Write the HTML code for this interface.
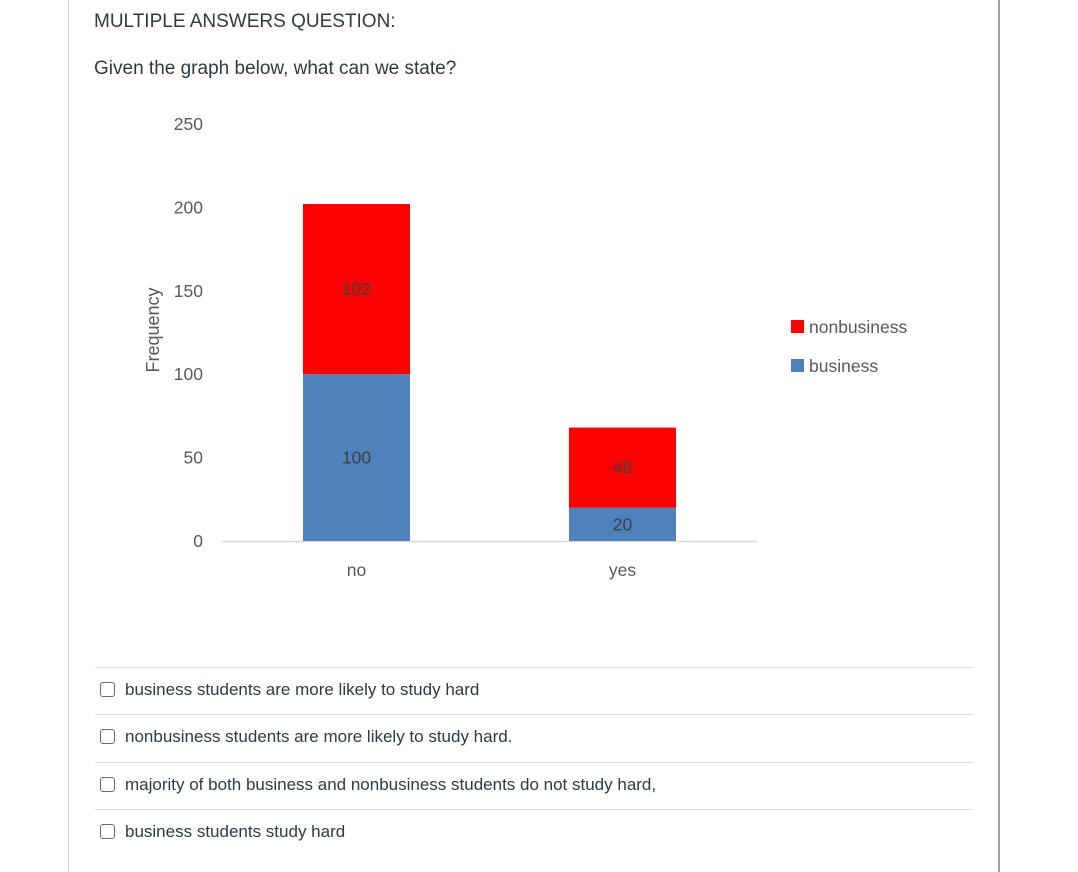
<!DOCTYPE html>
<html><head><meta charset="utf-8">
<style>
body{margin:0;background:#fff;width:1078px;height:872px;overflow:hidden;position:relative;font-family:"Liberation Sans",sans-serif;color:#2d3b45}
.bl{position:absolute;left:68px;top:0;width:1px;height:872px;background:#c7cdd1}
.br{position:absolute;left:998px;top:0;width:2px;height:872px;background:#a0a0a0}
.t{position:absolute;left:94px;font-size:19px;white-space:nowrap}
.opt{position:absolute;left:95px;width:878px;border-top:1px solid #dcdcdc;height:47px}
.opt .cb{position:absolute;left:5px;top:14px;width:13px;height:13px;border:1.5px solid #6b6b6b;border-radius:3px;background:#fff}
.opt span{position:absolute;left:30px;top:12px;font-size:17px;white-space:nowrap}
</style></head><body>
<div class="bl"></div>
<div class="br"></div>
<div class="t" style="top:11px">MULTIPLE ANSWERS QUESTION:</div>
<div class="t" style="top:58px">Given the graph below, what can we state?</div>
<svg id="chart" width="1078" height="640" style="position:absolute;left:0;top:0"></svg>
<div class="opt" style="top:667px"><div class="cb"></div><span>business students are more likely to study hard</span></div>
<div class="opt" style="top:714px"><div class="cb"></div><span>nonbusiness students are more likely to study hard.</span></div>
<div class="opt" style="top:762px"><div class="cb"></div><span>majority of both business and nonbusiness students do not study hard,</span></div>
<div class="opt" style="top:809px"><div class="cb"></div><span>business students study hard</span></div>
<script>
const categories=["no","yes"];
const business=[100,20];
const nonbusiness=[102,48];
const yTicks=[0,50,100,150,200,250];
const NS="http://www.w3.org/2000/svg";
const svg=document.getElementById('chart');
const y0=541,yTop=124,maxV=250;
function y(v){return y0-(v/maxV)*(y0-yTop);}
function xc(i){return 356.5+i*266;}
const bw=107;
function mk(tag,attrs,txt){const e=document.createElementNS(NS,tag);for(const k in attrs)e.setAttribute(k,attrs[k]);if(txt!==undefined)e.textContent=txt;svg.appendChild(e);return e;}
yTicks.forEach(v=>{const t=mk('text',{x:203,y:y(v)+6,'text-anchor':'end','font-size':'17.5',fill:'#595959','font-family':'Liberation Sans,sans-serif'},v);

});
const yt=mk('text',{x:0,y:0,transform:'translate(159,330) rotate(-90)','text-anchor':'middle','font-size':'18',fill:'#595959','font-family':'Liberation Sans,sans-serif'},'Frequency');


const ax=mk('line',{x1:222,x2:757,y1:y0+0.5,y2:y0+0.5,stroke:'#d9d9d9','stroke-width':1.5});


categories.forEach((c,i)=>{
 const b=business[i],n=nonbusiness[i];
 const r1=mk('rect',{x:xc(i)-bw/2,y:y(b),width:bw,height:y(0)-y(b),fill:'#4f81bd'});
 
 
 const r2=mk('rect',{x:xc(i)-bw/2,y:y(b+n),width:bw,height:y(b)-y(b+n),fill:'#ff0000'});
 
 
 const l1=mk('text',{x:xc(i),y:(y(0)+y(b))/2+6,'text-anchor':'middle','font-size':'17.5',fill:'#404040','font-family':'Liberation Sans,sans-serif'},b);
 
 
 const l2=mk('text',{x:xc(i),y:(y(b)+y(b+n))/2+6,'text-anchor':'middle','font-size':'17.5',fill:'#404040','font-family':'Liberation Sans,sans-serif'},n);
 
 
 const xl=mk('text',{x:xc(i),y:576,'text-anchor':'middle','font-size':'17.5',fill:'#595959','font-family':'Liberation Sans,sans-serif'},c);
 
 
});
const lg1=mk('rect',{x:791,y:320,width:13,height:13,fill:'#ff0000'});


const lt1=mk('text',{x:809,y:333,'font-size':'17.5',fill:'#595959','font-family':'Liberation Sans,sans-serif'},'nonbusiness');


const lg2=mk('rect',{x:791,y:359,width:13,height:13,fill:'#4f81bd'});


const lt2=mk('text',{x:809,y:372,'font-size':'17.5',fill:'#595959','font-family':'Liberation Sans,sans-serif'},'business');


</script>
</body></html>
